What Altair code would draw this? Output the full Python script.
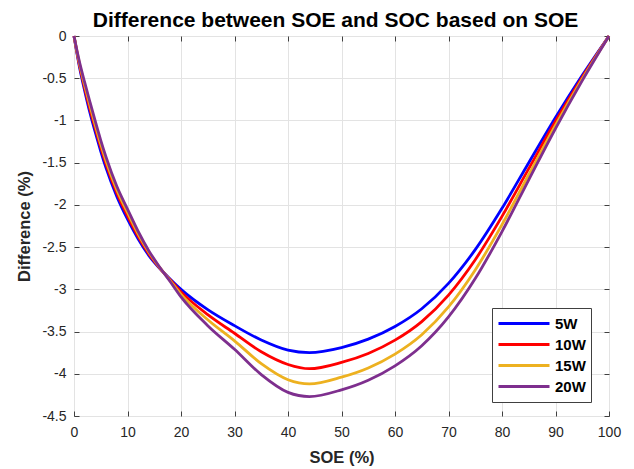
import altair as alt
import pandas as pd

# ---- data ----
soe = [0, 1, 2, 3, 4, 5, 6, 8, 10, 12, 14, 16, 18, 20, 25, 30, 35, 40, 44, 50,
       55, 60, 65, 70, 75, 80, 85, 90, 95, 100]
w5 = [0, -0.36, -0.65, -0.915, -1.145, -1.365, -1.565, -1.90, -2.17, -2.405, -2.60,
      -2.75, -2.88, -3.00, -3.24, -3.43, -3.60, -3.72, -3.75, -3.69, -3.59, -3.44,
      -3.23, -2.93, -2.53, -2.04, -1.50, -0.965, -0.465, 0]
w10 = [0, -0.34, -0.617, -0.872, -1.10, -1.32, -1.52, -1.86, -2.13, -2.375, -2.58,
       -2.745, -2.89, -3.03, -3.30, -3.52, -3.74, -3.89, -3.94, -3.865, -3.759, -3.602,
       -3.382, -3.068, -2.649, -2.136, -1.571, -1.01, -0.487, 0]
w15 = [0, -0.32, -0.583, -0.828, -1.06, -1.28, -1.48, -1.82, -2.09, -2.345, -2.56,
       -2.74, -2.90, -3.06, -3.36, -3.61, -3.88, -4.07, -4.12, -4.04, -3.931, -3.767,
       -3.537, -3.208, -2.77, -2.234, -1.643, -1.057, -0.509, 0]
w20 = [0, -0.30, -0.55, -0.785, -1.015, -1.235, -1.435, -1.78, -2.05, -2.315, -2.545,
       -2.735, -2.91, -3.09, -3.43, -3.71, -4.01, -4.22, -4.27, -4.19, -4.076, -3.906,
       -3.668, -3.327, -2.873, -2.316, -1.703, -1.096, -0.528, 0]

series_names = ["5W", "10W", "15W", "20W"]
series_colors = ["#0000FF", "#FF0000", "#EDB120", "#7E2F8E"]
x_ticks = [0, 10, 20, 30, 40, 50, 60, 70, 80, 90, 100]
y_ticks = [0, -0.5, -1, -1.5, -2, -2.5, -3, -3.5, -4, -4.5]

rows = []
for name, vals in zip(series_names, [w5, w10, w15, w20]):
    for s, v in zip(soe, vals):
        rows.append({"soe": s, "diff": v, "series": name})
df = pd.DataFrame(rows)

W, H = 535, 380
FONT = "Liberation Sans"
AX = "#404040"
TXT = "#262626"

xs = alt.Scale(domain=[0, 100], nice=False, zero=False)
ys = alt.Scale(domain=[-4.5, 0], nice=False, zero=False)

base = alt.Chart(df)

lines = base.mark_line(strokeWidth=2.8, interpolate="monotone").encode(
    x=alt.X("soe:Q", scale=xs,
            axis=alt.Axis(orient="bottom", values=x_ticks, title="SOE (%)",
                          grid=True, gridColor="#e3e3e3", ticks=False, tickSize=0,
                          domain=False, labelPadding=9, titlePadding=10,
                          labelFont=FONT, labelFontSize=14, labelColor=TXT,
                          titleFont=FONT, titleFontSize=16.5, titleFontWeight="bold",
                          titleColor=TXT, labelFlush=False)),
    y=alt.Y("diff:Q", scale=ys,
            axis=alt.Axis(orient="left", values=y_ticks, title="Difference (%)",
                          labelExpr="datum.value + ''",
                          grid=True, gridColor="#e3e3e3", ticks=False, tickSize=0,
                          domain=False, labelPadding=8, titlePadding=9,
                          labelFont=FONT, labelFontSize=14, labelColor=TXT,
                          titleFont=FONT, titleFontSize=16.5, titleFontWeight="bold",
                          titleColor=TXT, labelFlush=False)),
    color=alt.Color("series:N", sort=series_names,
                    scale=alt.Scale(domain=series_names, range=series_colors),
                    legend=alt.Legend(orient="none", legendX=418, legendY=272,
                                      title=None, fillColor="white",
                                      strokeColor=AX, padding=5,
                                      symbolType="stroke", symbolSize=2601,
                                      symbolStrokeWidth=3, clipHeight=21,
                                      rowPadding=0, labelOffset=4,
                                      labelFont=FONT, labelFontSize=15,
                                      labelFontWeight="bold", labelColor="black")),
)


def tick_axis(orient, offset, values):
    return alt.Axis(orient=orient, offset=offset, values=values, labels=False,
                    title=None, grid=False, ticks=True, tickSize=5,
                    tickColor=AX, domain=False)


# inward ticks on bottom and left edges
ticks_a = base.mark_point(opacity=0).encode(
    x=alt.X("soe:Q", scale=xs, axis=tick_axis("top", -H, x_ticks)),
    y=alt.Y("diff:Q", scale=ys, axis=tick_axis("right", -W, y_ticks)),
)
# inward ticks on top and right edges
ticks_b = base.mark_point(opacity=0).encode(
    x=alt.X("soe:Q", scale=xs, axis=tick_axis("bottom", -H, x_ticks)),
    y=alt.Y("diff:Q", scale=ys, axis=tick_axis("left", -W, y_ticks)),
)

chart = alt.layer(lines, ticks_a, ticks_b).resolve_axis(
    x="independent", y="independent"
).properties(
    width=W, height=H,
    title=alt.TitleParams("Difference between SOE and SOC based on SOE",
                          font=FONT, fontSize=21, fontWeight="bold",
                          color="black", anchor="middle", offset=-2, dx=-6),
    autosize=alt.AutoSizeParams(type="none"),
    padding={"left": 66, "top": 28, "right": 17, "bottom": 53},
).configure_view(stroke=AX, strokeWidth=1)

chart.save("out.html", embed_options={"renderer": "svg", "actions": False})
